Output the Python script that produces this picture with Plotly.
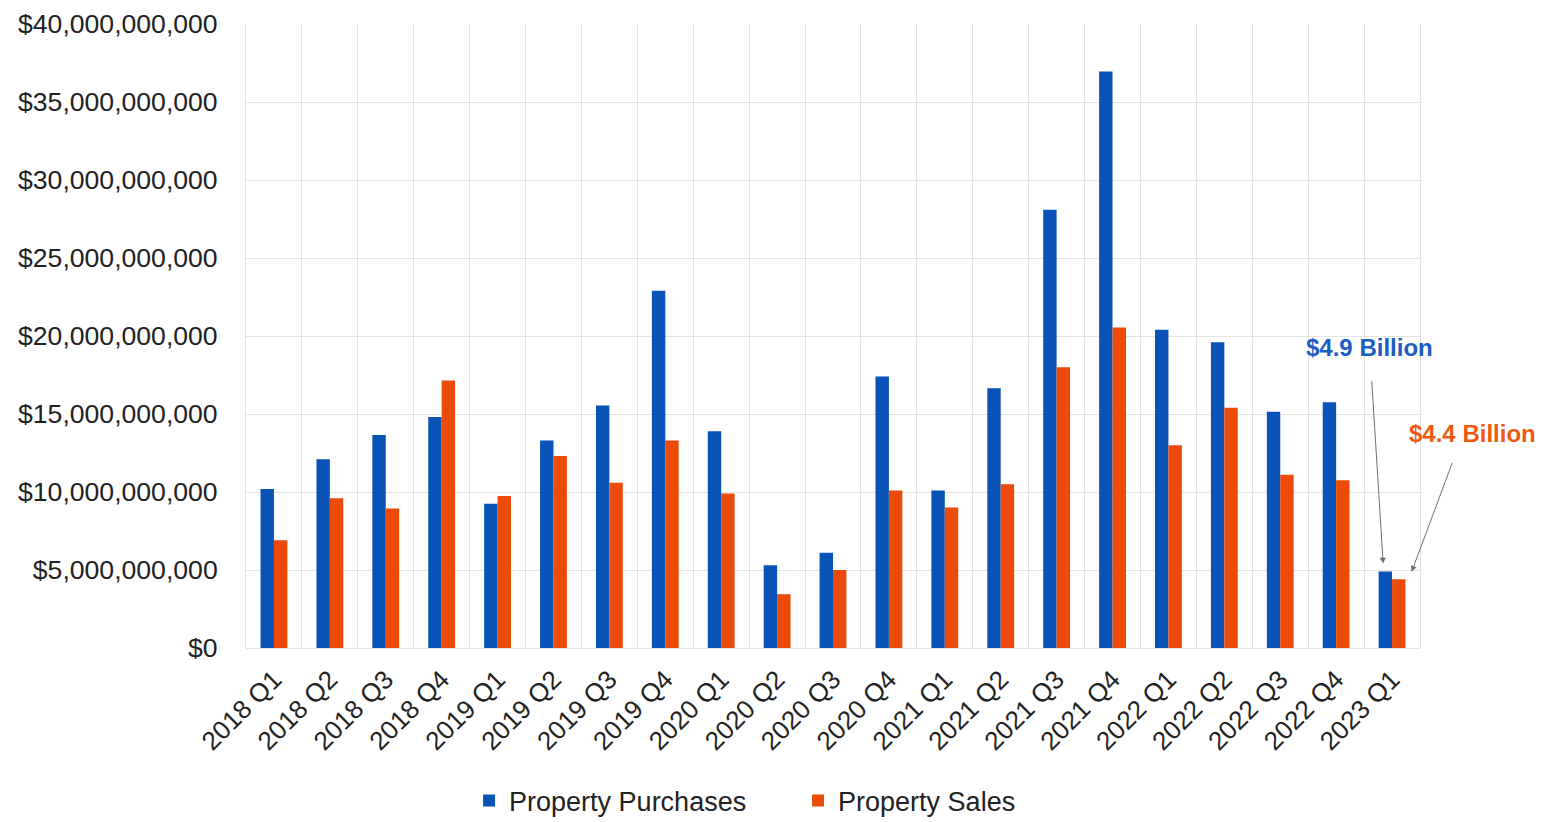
import plotly.graph_objects as go

# Quarterly totals, in US dollars
quarters = [
    "2018 Q1", "2018 Q2", "2018 Q3", "2018 Q4",
    "2019 Q1", "2019 Q2", "2019 Q3", "2019 Q4",
    "2020 Q1", "2020 Q2", "2020 Q3", "2020 Q4",
    "2021 Q1", "2021 Q2", "2021 Q3", "2021 Q4",
    "2022 Q1", "2022 Q2", "2022 Q3", "2022 Q4",
    "2023 Q1",
]
purchases_bn = [
    10.2, 12.1, 13.65, 14.8,
    9.25, 13.3, 15.55, 22.9,
    13.9, 5.3, 6.1, 17.4,
    10.1, 16.65, 28.1, 36.95,
    20.4, 19.6, 15.15, 15.75,
    4.9,
]
sales_bn = [
    6.9, 9.6, 8.95, 17.15,
    9.75, 12.3, 10.6, 13.3,
    9.9, 3.45, 5.0, 10.1,
    9.0, 10.5, 18.0, 20.55,
    13.0, 15.4, 11.1, 10.75,
    4.4,
]
purchases = [v * 1e9 for v in purchases_bn]
sales = [v * 1e9 for v in sales_bn]

BLUE = "#0A53B6"
ORANGE = "#EB4A08"
FONT = "Arial, Liberation Sans, sans-serif"
TEXT = "#222222"
GRID = "#E3E3E3"

fig = go.Figure()
fig.add_trace(go.Bar(x=quarters, y=purchases, name="Property Purchases",
                     marker=dict(color=BLUE, line=dict(width=0))))
fig.add_trace(go.Bar(x=quarters, y=sales, name="Property Sales",
                     marker=dict(color=ORANGE, line=dict(width=0))))

last = len(quarters) - 1

# Callouts for the latest quarter: label text and a separate pointer arrow
fig.add_annotation(x=0.9574, y=19.25e9, xref="paper", yref="y",
                   xanchor="center", yanchor="middle",
                   text="<b>$4.9 Billion</b>", showarrow=False,
                   font=dict(family=FONT, size=24, color="#1A5EC4"))
fig.add_annotation(x=last - 0.15, y=purchases[last], xref="x", yref="y",
                   text="", showarrow=True, arrowhead=2, arrowsize=1.2,
                   arrowwidth=1, arrowcolor="#707070", standoff=8,
                   ax=-12, ay=-192)
fig.add_annotation(x=1.0443, y=13.72e9, xref="paper", yref="y",
                   xanchor="center", yanchor="middle",
                   text="<b>$4.4 Billion</b>", showarrow=False,
                   font=dict(family=FONT, size=24, color="#EE5A12"))
fig.add_annotation(x=last + 0.3, y=sales[last], xref="x", yref="y",
                   text="", showarrow=True, arrowhead=2, arrowsize=1.2,
                   arrowwidth=1, arrowcolor="#707070", standoff=8,
                   ax=44, ay=-118)

fig.update_layout(
    width=1562, height=822,
    margin=dict(l=246, r=142, t=24, b=174, autoexpand=False),
    paper_bgcolor="white", plot_bgcolor="white",
    barmode="group", bargap=0.52, bargroupgap=0,
    font=dict(family=FONT, size=26, color=TEXT),
    showlegend=True,
    legend=dict(orientation="h", x=0.19, xanchor="left",
                y=-0.245, yanchor="middle",
                font=dict(family=FONT, size=27, color=TEXT),
                itemwidth=30, entrywidth=284, entrywidthmode="pixels",
                bgcolor="rgba(0,0,0,0)"),
)
fig.update_xaxes(
    type="category", range=[-0.5, last + 0.5], autorange=False,
    tickson="boundaries", tickangle=-45, automargin=False,
    showgrid=True, gridcolor=GRID, gridwidth=1,
    ticks="", showline=False, zeroline=False, ticklabelstandoff=10,
    tickfont=dict(family=FONT, size=26, color=TEXT),
)
fig.update_yaxes(
    range=[0, 40e9], dtick=5e9, tickprefix="$", tickformat=",.0f",
    automargin=False,
    showgrid=True, gridcolor=GRID, gridwidth=1,
    zeroline=True, zerolinecolor=GRID, zerolinewidth=1,
    showline=True, mirror=True, linecolor=GRID, linewidth=1,
    ticks="", ticklabelstandoff=22,
    tickfont=dict(family=FONT, size=26.6, color=TEXT),
)

fig.write_html("out.html")
